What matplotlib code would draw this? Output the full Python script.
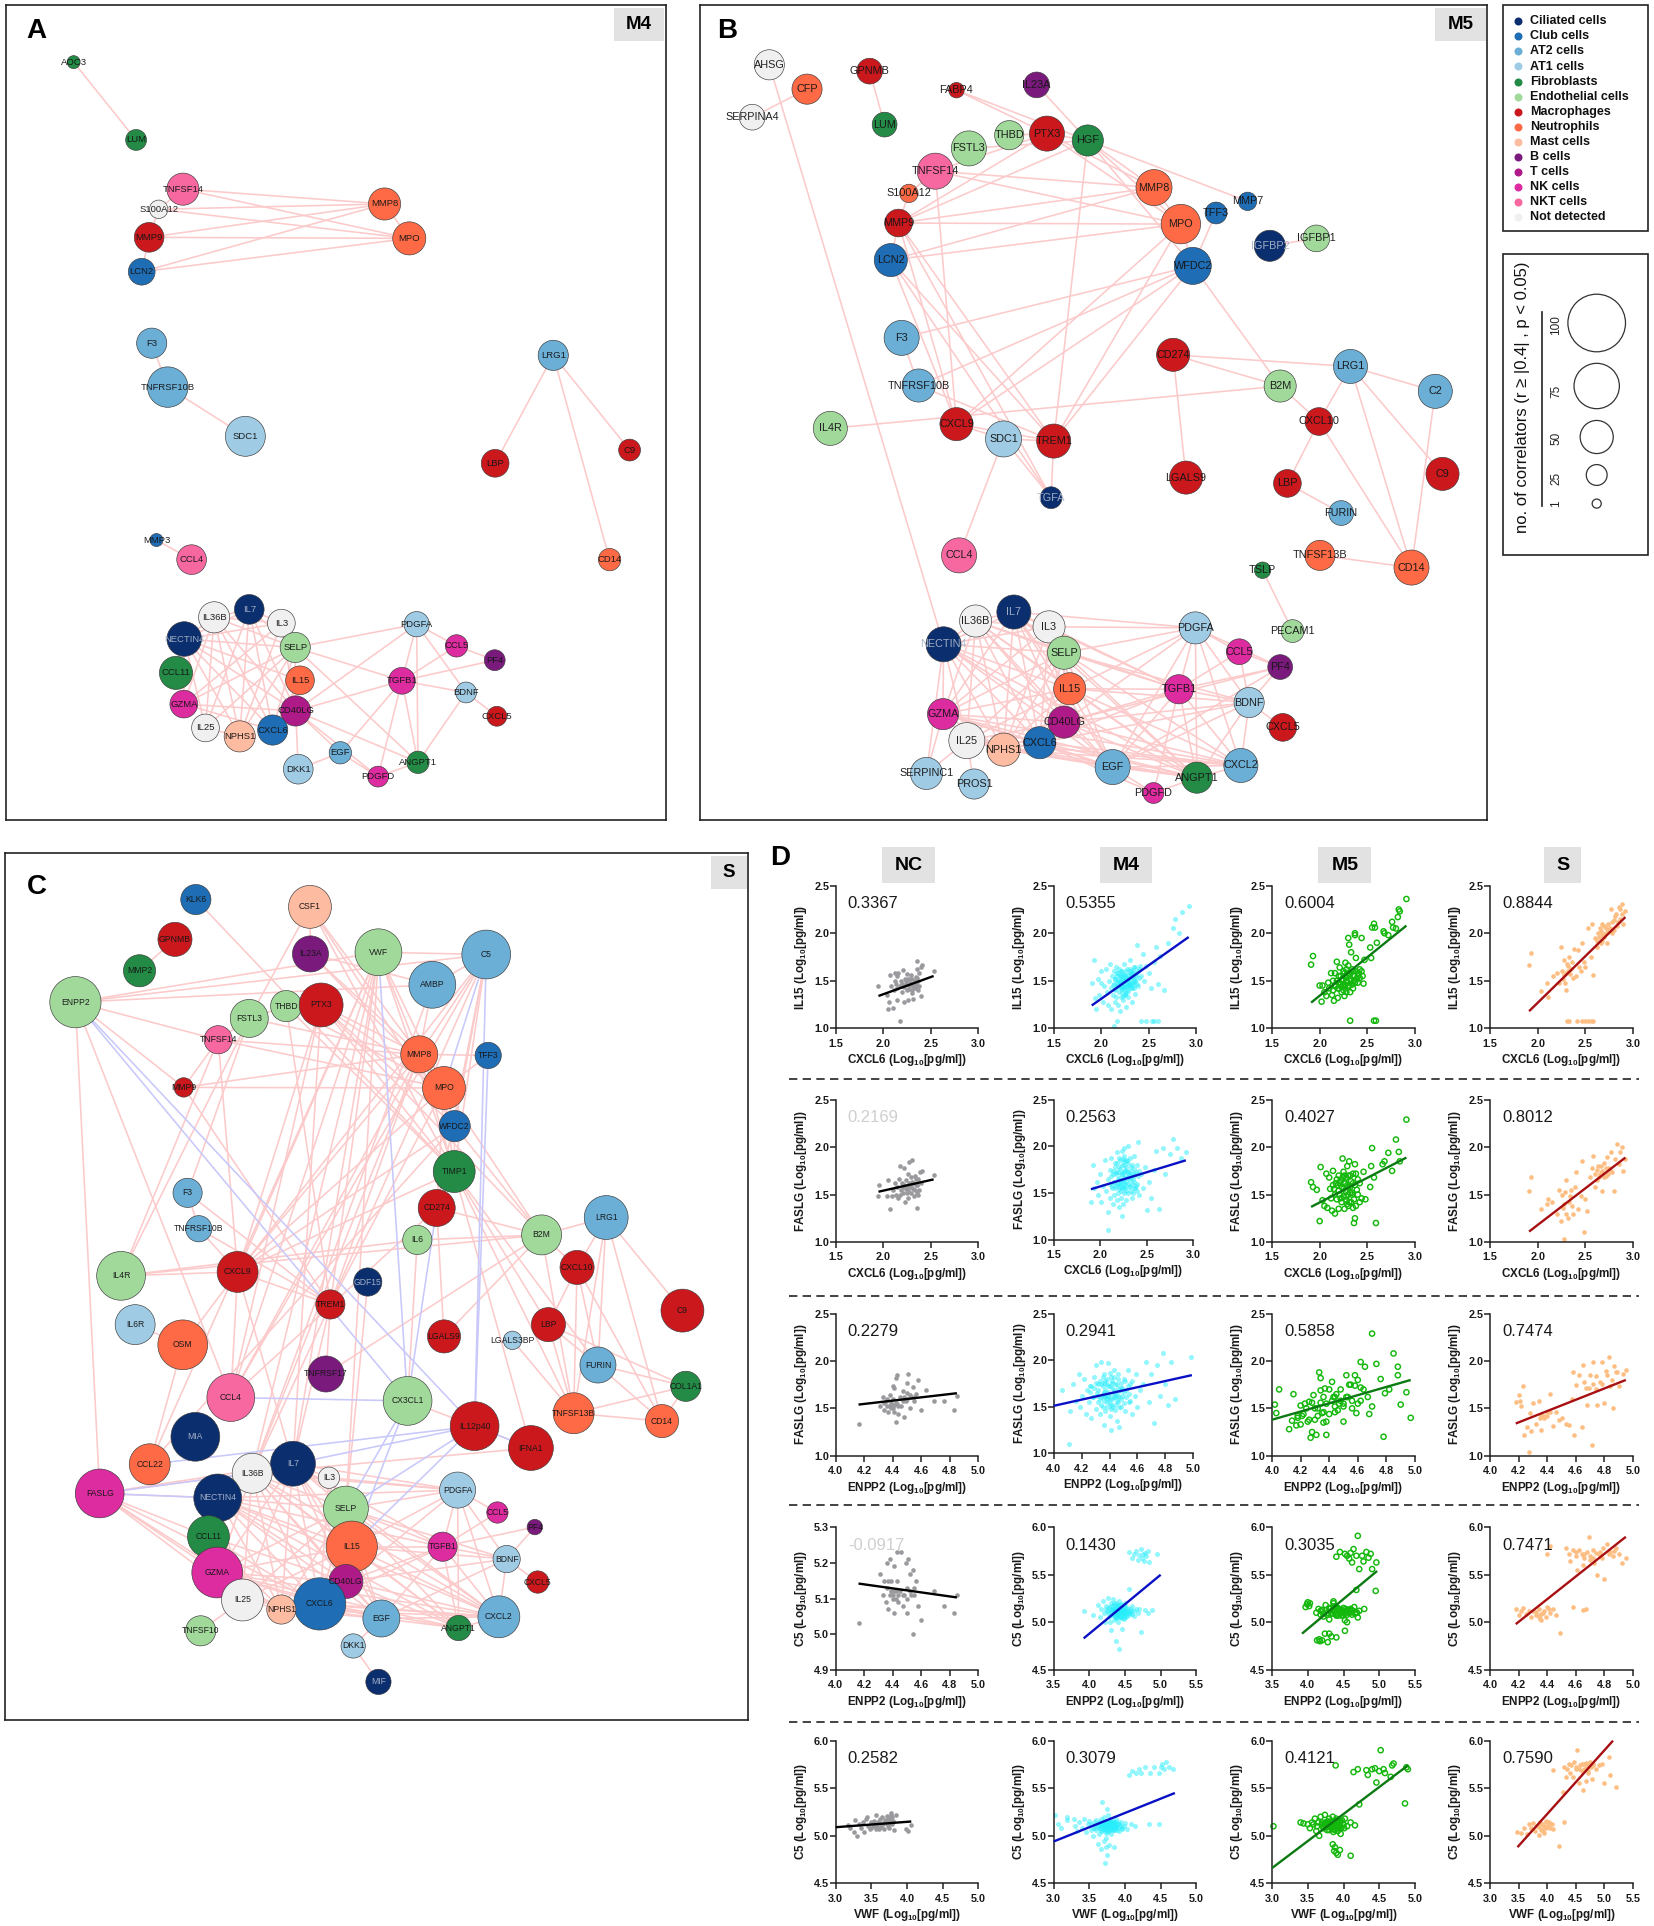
import matplotlib
matplotlib.use("Agg")
import matplotlib.pyplot as plt
from matplotlib.patches import Rectangle

W, H = 1654, 1926
plt.rcParams['font.family'] = ['Liberation Sans', 'DejaVu Sans']
plt.rcParams['mathtext.fontset'] = 'custom'
plt.rcParams['mathtext.bf'] = 'Liberation Sans:bold'
plt.rcParams['mathtext.rm'] = 'Liberation Sans'

# cell types / legend
cell_names = ["Ciliated cells", "Club cells", "AT2 cells", "AT1 cells", "Fibroblasts", "Endothelial cells",
              "Macrophages", "Neutrophils", "Mast cells", "B cells", "T cells", "NK cells", "NKT cells", "Not detected"]
cell_colors = ["#0b2e6f", "#1f6db5", "#6baed6", "#a0cbe4", "#238b45", "#a1d99b", "#cb181d", "#fe6a45", "#fdbba1",
               "#7a1a7d", "#ae1a87", "#dd2ba0", "#f768a1", "#f0f0f0"]
size_legend = [100, 75, 50, 25, 1]

# panel A, M4 network
a_names = ["AOC3", "LUM", "TNFSF14", "S100A12", "MMP9", "LCN2", "MMP8", "MPO", "F3", "TNFRSF10B", "SDC1", "LRG1", "LBP", "C9", "CD14", "MMP3", "CCL4", "IL36B", "IL7", "IL3", "NECTIN4", "SELP", "CCL11", "IL15", "GZMA", "CD40LG", "IL25", "NPHS1", "CXCL6", "DKK1", "EGF", "PDGFD", "ANGPT1", "PDGFA", "CCL5", "PF4", "TGFB1", "BDNF", "CXCL5"]
a_x = [171, 315, 423, 367, 345, 328, 888, 945, 351, 388, 567, 1277, 1143, 1453, 1407, 362, 443, 495, 576, 650, 426, 682, 407, 693, 425, 683, 475, 554, 630, 689, 786, 873, 965, 962, 1054, 1142, 928, 1076, 1147]
a_y = [118, 265, 358, 396, 449, 514, 386, 451, 649, 732, 825, 672, 876, 851, 1058, 1021, 1058, 1167, 1152, 1178, 1208, 1224, 1272, 1286, 1331, 1344, 1376, 1392, 1380, 1454, 1423, 1468, 1441, 1180, 1221, 1248, 1287, 1309, 1354]
a_n = [9, 25, 48, 20, 43, 37, 48, 50, 44, 65, 64, 44, 39, 27, 28, 9, 43, 46, 43, 39, 53, 44, 50, 41, 39, 44, 39, 46, 44, 43, 28, 25, 28, 34, 28, 25, 37, 25, 23]
a_cell = [4, 4, 12, 13, 6, 1, 7, 7, 2, 2, 3, 2, 6, 6, 7, 1, 12, 13, 0, 13, 0, 5, 4, 7, 11, 10, 13, 8, 1, 3, 2, 11, 4, 3, 11, 9, 11, 3, 6]
a_edges = ["AOC3 LUM", "TNFSF14 MMP8 MPO S100A12", "S100A12 MMP8 MPO MMP9", "MMP9 MMP8 MPO LCN2", "LCN2 MMP8 MPO", "MMP8 MPO",
           "F3 TNFRSF10B", "TNFRSF10B SDC1", "LRG1 LBP C9 CD14", "MMP3 CCL4",
           "NECTIN4 IL36B IL7 IL3 SELP CD40LG CXCL6 NPHS1 IL25 IL15 CCL11 GZMA", "IL36B IL7 IL3 SELP GZMA NPHS1 CXCL6 CD40LG IL25",
           "IL7 IL3 SELP CD40LG NPHS1 CXCL6 IL25", "IL3 SELP GZMA NPHS1 CD40LG", "SELP GZMA IL25 NPHS1 CD40LG CXCL6 PDGFA TGFB1 ANGPT1",
           "IL15 CD40LG CXCL6", "GZMA CD40LG CXCL6", "IL25 NPHS1", "CD40LG DKK1 EGF PDGFD ANGPT1 TGFB1 CXCL6 PDGFA",
           "TGFB1 PDGFA CCL5 PF4 BDNF ANGPT1 PDGFD EGF", "PDGFA CCL5 ANGPT1 BDNF", "CCL5 PF4", "BDNF CXCL5 ANGPT1", "DKK1 EGF", "EGF PDGFD", "PDGFD ANGPT1"]

# panel B, M5 network
b_names = ["AHSG", "CFP", "SERPINA4", "GPNMB", "LUM", "FABP4", "IL23A", "THBD", "FSTL3", "PTX3", "HGF", "TNFSF14", "S100A12", "MMP9", "LCN2", "MMP8", "MPO", "TFF3", "MMP7", "WFDC2", "IGFBP2", "IGFBP1", "F3", "TNFRSF10B", "CD274", "B2M", "LRG1", "C2", "IL4R", "CXCL9", "SDC1", "TREM1", "CXCL10", "LGALS9", "LBP", "C9", "TGFA", "FURIN", "CCL4", "TNFSF13B", "CD14", "TSLP", "PECAM1", "IL36B", "IL7", "IL3", "NECTIN4", "SELP", "PDGFA", "CCL5", "PF4", "IL15", "TGFB1", "BDNF", "GZMA", "CD40LG", "CXCL5", "IL25", "NPHS1", "CXCL6", "SERPINC1", "PROS1", "EGF", "CXCL2", "ANGPT1", "PDGFD"]
b_x = [154, 227, 121, 348, 377, 516, 671, 618, 540, 691, 770, 475, 424, 404, 389, 898, 950, 1018, 1079, 973, 1122, 1212, 410, 443, 935, 1142, 1278, 1442, 272, 516, 607, 704, 1217, 960, 1156, 1456, 699, 1260, 521, 1219, 1396, 1108, 1166, 553, 627, 695, 491, 724, 978, 1063, 1142, 735, 946, 1082, 490, 724, 1147, 536, 607, 677, 458, 550, 818, 1066, 981, 897]
b_y = [123, 169, 222, 135, 236, 171, 161, 256, 281, 253, 266, 324, 366, 422, 492, 355, 424, 403, 381, 503, 465, 451, 639, 729, 671, 730, 693, 740, 810, 802, 830, 834, 797, 903, 914, 896, 941, 970, 1050, 1050, 1073, 1078, 1193, 1174, 1157, 1185, 1218, 1234, 1187, 1232, 1261, 1302, 1303, 1328, 1350, 1365, 1375, 1400, 1417, 1404, 1462, 1482, 1450, 1447, 1470, 1499]
b_n = [44, 44, 35, 35, 33, 14, 35, 42, 54, 54, 46, 56, 20, 39, 50, 56, 63, 27, 20, 58, 46, 37, 54, 50, 50, 48, 52, 52, 52, 50, 56, 52, 39, 50, 39, 50, 27, 33, 54, 44, 54, 16, 29, 48, 52, 48, 54, 50, 48, 35, 33, 48, 42, 44, 46, 48, 39, 56, 50, 48, 48, 44, 54, 52, 46, 25]
b_cell = [13, 7, 13, 6, 4, 6, 9, 5, 5, 6, 4, 12, 7, 6, 1, 7, 7, 1, 1, 1, 0, 5, 2, 2, 6, 5, 2, 2, 5, 6, 3, 6, 6, 6, 6, 6, 0, 2, 12, 7, 7, 4, 5, 13, 0, 13, 0, 5, 3, 11, 9, 7, 11, 3, 11, 10, 6, 13, 8, 1, 3, 3, 2, 2, 4, 11]
b_edges = ["AHSG NECTIN4", "CFP SERPINA4", "GPNMB LUM", "FABP4 PTX3 HGF", "IL23A HGF", "THBD PTX3", "FSTL3 HGF",
           "HGF MMP8 MPO WFDC2 MMP7 TREM1 PTX3", "PTX3 MMP8 MPO TNFSF14 MMP9", "TNFSF14 MMP8 MPO CXCL9 S100A12", "S100A12 MMP9",
           "MMP9 MMP8 MPO HGF LCN2 CXCL9 TREM1 TGFA", "LCN2 MMP8 MPO TREM1 TGFA CXCL9", "MPO MMP8 WFDC2 CXCL9 TREM1",
           "WFDC2 TFF3 F3 TNFRSF10B CXCL9 TREM1 B2M", "F3 TNFRSF10B", "TNFRSF10B TREM1", "CXCL9 SDC1 TREM1", "IL4R B2M",
           "SDC1 CCL4 TREM1 TGFA", "TREM1 TGFA", "CD274 LRG1 B2M LGALS9", "B2M CXCL10", "LRG1 C2 CXCL10 CD14 C9", "C2 CD14",
           "CXCL10 LBP CD14", "LBP FURIN", "TNFSF13B CD14", "TSLP PECAM1", "IGFBP2 IGFBP1",
           "NECTIN4 IL36B IL7 IL3 SELP IL15 GZMA CD40LG IL25 NPHS1 CXCL6 EGF ANGPT1 SERPINC1",
           "IL36B IL7 IL3 SELP IL15 GZMA CD40LG IL25 NPHS1 CXCL6 EGF ANGPT1 TGFB1",
           "IL7 IL3 SELP IL15 GZMA CD40LG NPHS1 CXCL6 EGF PDGFA TGFB1 ANGPT1",
           "IL3 SELP IL15 GZMA CD40LG NPHS1 CXCL6 PDGFA TGFB1",
           "SELP IL15 GZMA CD40LG IL25 NPHS1 CXCL6 EGF PDGFA TGFB1 BDNF ANGPT1 CXCL2",
           "IL15 GZMA CD40LG IL25 NPHS1 CXCL6 EGF TGFB1 PDGFA BDNF ANGPT1 CXCL2",
           "GZMA IL25 NPHS1 CXCL6 CD40LG EGF ANGPT1 SERPINC1 CXCL2",
           "CD40LG IL25 NPHS1 CXCL6 EGF TGFB1 PDGFA BDNF ANGPT1 CXCL2 PF4",
           "IL25 NPHS1 CXCL6 EGF ANGPT1 SERPINC1 PROS1 CXCL2", "NPHS1 CXCL6 EGF ANGPT1 CXCL2",
           "CXCL6 EGF ANGPT1 TGFB1 BDNF CXCL2 PDGFD", "EGF TGFB1 BDNF PDGFA ANGPT1 CXCL2 PDGFD PF4",
           "TGFB1 PDGFA CCL5 PF4 BDNF CXCL2 ANGPT1 PDGFD", "PDGFA CCL5 PF4 BDNF CXCL2 ANGPT1", "CCL5 PF4 BDNF", "PF4 BDNF",
           "BDNF CXCL5 CXCL2 ANGPT1", "CXCL2 ANGPT1", "PDGFD ANGPT1"]

# panel C, S network
c_names = ["KLK6", "CSF1", "GPNMB", "IL23A", "VWF", "C5", "MMP2", "AMBP", "ENPP2", "FSTL3", "THBD", "PTX3", "TNFSF14", "MMP8", "TFF3", "MMP9", "MPO", "WFDC2", "TIMP1", "F3", "CD274", "LRG1", "TNFRSF10B", "IL6", "B2M", "CXCL10", "IL4R", "CXCL9", "GDF15", "TREM1", "C9", "IL6R", "OSM", "LBP", "LGALS9", "LGALS3BP", "FURIN", "TNFRSF17", "COL1A1", "CCL4", "CX3CL1", "TNFSF13B", "CD14", "IL12p40", "MIA", "IFNA1", "CCL22", "IL7", "IL36B", "IL3", "PDGFA", "FASLG", "NECTIN4", "SELP", "CCL5", "PF4", "CCL11", "TGFB1", "IL15", "BDNF", "GZMA", "CXCL5", "CD40LG", "IL25", "CXCL6", "NPHS1", "EGF", "CXCL2", "ANGPT1", "TNFSF10", "DKK1", "MIF"]
c_x = [405, 640, 362, 641, 781, 1003, 289, 892, 157, 515, 591, 663, 451, 865, 1007, 380, 916, 938, 937, 388, 901, 1250, 411, 861, 1117, 1190, 251, 491, 759, 682, 1407, 280, 378, 1131, 916, 1057, 1233, 673, 1414, 477, 841, 1183, 1365, 979, 404, 1095, 310, 605, 521, 679, 944, 207, 450, 714, 1026, 1103, 431, 913, 726, 1045, 449, 1109, 714, 501, 660, 581, 787, 1029, 946, 415, 729, 781]
c_y = [89, 102, 160, 186, 183, 187, 216, 241, 272, 301, 279, 277, 339, 365, 367, 424, 425, 493, 574, 612, 639, 656, 676, 696, 687, 745, 760, 753, 771, 811, 822, 847, 883, 847, 868, 875, 919, 935, 957, 977, 983, 1005, 1019, 1028, 1047, 1067, 1096, 1095, 1112, 1120, 1142, 1148, 1156, 1175, 1182, 1208, 1225, 1243, 1243, 1265, 1289, 1306, 1305, 1338, 1345, 1355, 1371, 1368, 1388, 1393, 1420, 1484]
c_n = [44, 70, 52, 56, 78, 82, 48, 78, 87, 60, 46, 72, 40, 58, 36, 22, 70, 46, 68, 42, 58, 72, 36, 42, 64, 52, 82, 66, 40, 42, 70, 64, 84, 52, 50, 20, 56, 56, 44, 80, 82, 66, 50, 82, 82, 74, 66, 74, 64, 26, 56, 82, 80, 74, 26, 14, 68, 42, 87, 38, 86, 28, 52, 68, 89, 42, 58, 68, 34, 44, 32, 34]
c_cell = [1, 8, 6, 9, 5, 2, 4, 2, 5, 5, 5, 6, 12, 7, 1, 6, 7, 1, 4, 2, 6, 2, 2, 5, 5, 6, 5, 6, 0, 6, 6, 3, 7, 6, 6, 3, 2, 9, 4, 12, 5, 7, 7, 6, 0, 6, 7, 0, 13, 13, 3, 11, 0, 5, 11, 9, 4, 11, 7, 3, 11, 6, 10, 13, 1, 8, 2, 2, 4, 5, 3, 0]
c_edges = ["ENPP2 VWF AMBP C5 MMP9 FASLG CCL4 TNFSF14", "KLK6 TIMP1", "GPNMB MMP2", "CSF1 IL23A FSTL3 WFDC2 TIMP1 MPO", "IL23A MPO MMP8 AMBP",
           "VWF C5 MPO TIMP1 CXCL9 CCL4 IL36B TREM1 SELP IL7 CCL22 MMP8", "C5 AMBP MMP8 CD274 CXCL9 TIMP1 WFDC2 CCL4 TREM1",
           "AMBP MMP8 IL36B", "FSTL3 THBD TNFSF14 IL4R F3 MMP8", "THBD PTX3 MPO TREM1 TIMP1", "PTX3 MMP8 MPO WFDC2 TIMP1 B2M CXCL9 CCL4 IL7",
           "TNFSF14 MMP8 MMP9 CXCL9 MPO IL4R", "MMP9 MPO MMP8 TREM1", "MMP8 MPO TFF3 CXCL9 TIMP1 IL36B CCL4 TREM1",
           "MPO WFDC2 CXCL9 TIMP1 CD274 TREM1 B2M", "TFF3 MPO", "WFDC2 TIMP1 B2M CXCL9 CCL22", "TIMP1 CD274 CXCL9 LBP TNFSF13B IFNA1 FURIN",
           "CD274 B2M LGALS9 CCL4", "F3 TNFRSF10B TREM1", "TNFRSF10B CXCL9 TREM1", "IL6 B2M IL4R CX3CL1", "IL4R B2M CXCL9",
           "B2M LRG1 CXCL10 LGALS9 TNFRSF17 TNFSF13B", "LRG1 CXCL10 C9 FURIN CD14 TNFSF13B", "CXCL10 LBP FURIN TNFSF13B CD14", "LBP FURIN COL1A1 TNFSF13B",
           "FURIN COL1A1 CD14", "COL1A1 TNFSF13B CD14", "TNFSF13B CD14 LGALS3BP", "IL6R OSM", "OSM CXCL9", "CXCL9 TREM1 CCL4 IL7", "TREM1 TNFRSF17 IL7 IL36B",
           "CCL22 OSM", "GDF15 SELP", "IL12p40 CX3CL1 IFNA1", "IFNA1 IL36B",
           "FASLG IL36B NECTIN4 CCL11 GZMA IL25 CXCL6 NPHS1 IL7",
           "NECTIN4 IL36B IL7 SELP IL15 GZMA CD40LG IL25 NPHS1 CXCL6 EGF CXCL2 ANGPT1 TGFB1 PDGFA",
           "IL36B IL7 IL3 SELP IL15 GZMA CD40LG IL25 NPHS1 CXCL6 EGF CXCL2 ANGPT1 PDGFA",
           "IL7 IL3 SELP IL15 GZMA CD40LG IL25 NPHS1 CXCL6 EGF CXCL2 TGFB1 PDGFA", "IL3 SELP CXCL6 PDGFA CD40LG",
           "SELP IL15 GZMA CD40LG IL25 NPHS1 CXCL6 EGF CXCL2 ANGPT1 TGFB1 PDGFA BDNF",
           "IL15 GZMA CD40LG IL25 CXCL6 EGF CXCL2 ANGPT1 TGFB1 PDGFA BDNF", "GZMA CCL11 CD40LG IL25 NPHS1 CXCL6 EGF CXCL2 ANGPT1",
           "CCL11 IL25 NPHS1 CXCL6 CD40LG", "IL25 NPHS1 CXCL6 EGF CXCL2 TNFSF10", "NPHS1 CXCL6 EGF CXCL2", "CXCL6 CD40LG EGF CXCL2 ANGPT1 TGFB1",
           "CD40LG EGF CXCL2 ANGPT1 TGFB1 PDGFA BDNF", "EGF CXCL2 ANGPT1 TGFB1 BDNF", "TGFB1 PDGFA BDNF CXCL2 ANGPT1 CCL5 PF4", "PDGFA BDNF CXCL2 ANGPT1 CCL5",
           "BDNF CXCL2 CXCL5 PF4", "DKK1 MIF EGF", "ANGPT1 CXCL2"]
c_neg_edges = ["ENPP2 CX3CL1 IL12p40", "C5 MPO", "TFF3 IL12p40", "C5 IL12p40", "VWF CX3CL1", "CD274 CX3CL1", "CCL4 CX3CL1", "CX3CL1 SELP IL15",
               "IL12p40 IL15 SELP IL7 IFNA1 CCL22", "FASLG NECTIN4 IL36B"]

# panel D scatter values, row 1 (CXCL6 vs IL15)
r1_nc_x = [1.95, 2.04, 2.05, 2.06, 2.07, 2.08, 2.1, 2.11, 2.12, 2.12, 2.13, 2.14, 2.14, 2.15, 2.16, 2.18, 2.19, 2.2, 2.2, 2.21, 2.22, 2.23, 2.24, 2.25, 2.25, 2.26, 2.27, 2.28, 2.29, 2.3, 2.3, 2.31, 2.32, 2.33, 2.34, 2.35, 2.36, 2.37, 2.37, 2.38, 2.4, 2.4, 2.41, 2.53, 2.2, 2.24, 2.27, 2.29, 2.31, 2.33, 2.35, 2.18, 2.26, 2.3, 2.34, 2.36, 2.28, 2.22, 2.38]
r1_nc_y = [1.44, 1.35, 1.2, 1.28, 1.56, 1.45, 1.21, 1.4, 1.5, 1.58, 1.47, 1.3, 1.55, 1.42, 1.58, 1.08, 1.5, 1.38, 1.44, 1.61, 1.28, 1.52, 1.47, 1.4, 1.57, 1.3, 1.44, 1.48, 1.56, 1.4, 1.52, 1.31, 1.46, 1.42, 1.54, 1.62, 1.71, 1.5, 1.4, 1.58, 1.65, 1.34, 1.67, 1.6, 1.47, 1.5, 1.41, 1.47, 1.44, 1.5, 1.45, 1.45, 1.52, 1.37, 1.48, 1.53, 1.52, 1.43, 1.44]
r1_m4_x = [1.9, 1.92, 1.93, 1.95, 1.97, 1.98, 2.0, 2.0, 2.02, 2.03, 2.05, 2.06, 2.07, 2.08, 2.09, 2.1, 2.1, 2.11, 2.12, 2.13, 2.13, 2.14, 2.15, 2.15, 2.16, 2.16, 2.17, 2.17, 2.18, 2.18, 2.19, 2.19, 2.2, 2.2, 2.2, 2.21, 2.21, 2.22, 2.22, 2.23, 2.23, 2.24, 2.24, 2.25, 2.25, 2.26, 2.26, 2.27, 2.27, 2.28, 2.28, 2.29, 2.3, 2.3, 2.31, 2.32, 2.32, 2.33, 2.34, 2.35, 2.36, 2.37, 2.38, 2.39, 2.4, 2.42, 2.44, 2.45, 2.47, 2.5, 2.52, 2.55, 2.58, 2.6, 2.62, 2.66, 2.7, 2.75, 2.78, 2.82, 2.85, 2.92, 2.13, 2.17, 2.42, 2.47, 2.53, 2.56, 2.6]
r1_m4_y = [1.48, 1.72, 1.32, 1.2, 1.52, 1.35, 1.48, 1.6, 1.28, 1.45, 1.62, 1.38, 1.25, 1.5, 1.68, 1.2, 1.42, 1.55, 1.35, 1.6, 1.47, 1.28, 1.52, 1.4, 1.65, 1.33, 1.45, 1.58, 1.25, 1.5, 1.38, 1.62, 1.18, 1.44, 1.55, 1.33, 1.48, 1.6, 1.41, 1.3, 1.52, 1.68, 1.43, 1.36, 1.56, 1.22, 1.47, 1.62, 1.4, 1.52, 1.33, 1.46, 1.58, 1.72, 1.42, 1.54, 1.28, 1.48, 1.64, 1.5, 1.36, 1.57, 1.88, 1.45, 1.62, 1.55, 1.78, 1.5, 1.66, 1.58, 1.42, 1.7, 1.85, 1.47, 1.76, 1.4, 1.9, 2.05, 2.15, 2.0, 2.22, 2.29, 1.02, 1.08, 1.08, 1.08, 1.08, 1.08, 1.08]
r1_m4_core_x = [2.12, 2.14, 2.15, 2.16, 2.17, 2.18, 2.18, 2.19, 2.2, 2.2, 2.21, 2.21, 2.22, 2.22, 2.23, 2.23, 2.24, 2.24, 2.25, 2.25, 2.26, 2.26, 2.27, 2.27, 2.28, 2.28, 2.29, 2.29, 2.3, 2.3, 2.31, 2.31, 2.32, 2.32, 2.33, 2.33, 2.34, 2.34, 2.35, 2.35, 2.36, 2.37, 2.38, 2.39, 2.4, 2.41, 2.2, 2.22, 2.24, 2.26, 2.28, 2.3, 2.32, 2.34, 2.25, 2.27, 2.21, 2.23, 2.29, 2.31]
r1_m4_core_y = [1.46, 1.52, 1.41, 1.55, 1.48, 1.44, 1.58, 1.5, 1.42, 1.54, 1.47, 1.6, 1.38, 1.52, 1.45, 1.57, 1.41, 1.5, 1.35, 1.46, 1.54, 1.6, 1.43, 1.5, 1.39, 1.56, 1.47, 1.53, 1.44, 1.62, 1.5, 1.57, 1.42, 1.48, 1.55, 1.61, 1.46, 1.52, 1.58, 1.64, 1.5, 1.55, 1.47, 1.6, 1.53, 1.66, 1.49, 1.43, 1.55, 1.37, 1.52, 1.46, 1.58, 1.42, 1.51, 1.44, 1.56, 1.34, 1.48, 1.6]
r1_m5_x = [1.91, 1.93, 2.0, 2.02, 2.03, 2.05, 2.07, 2.09, 2.1, 2.12, 2.13, 2.14, 2.15, 2.16, 2.17, 2.18, 2.19, 2.2, 2.2, 2.21, 2.22, 2.23, 2.24, 2.25, 2.25, 2.26, 2.27, 2.28, 2.28, 2.29, 2.3, 2.3, 2.31, 2.32, 2.32, 2.33, 2.34, 2.35, 2.36, 2.37, 2.37, 2.38, 2.4, 2.42, 2.44, 2.45, 2.47, 2.53, 2.54, 2.55, 2.57, 2.58, 2.6, 2.67, 2.68, 2.72, 2.76, 2.77, 2.8, 2.82, 2.83, 2.84, 2.91, 2.32, 2.57, 2.59]
r1_m5_y = [1.67, 1.76, 1.45, 1.28, 1.45, 1.38, 1.34, 1.48, 1.42, 1.58, 1.35, 1.5, 1.29, 1.58, 1.44, 1.7, 1.32, 1.42, 1.55, 1.64, 1.46, 1.38, 1.52, 1.6, 1.44, 1.34, 1.69, 1.5, 1.38, 1.58, 1.44, 1.95, 1.88, 1.52, 1.38, 1.8, 1.46, 1.6, 1.5, 1.98, 2.0, 1.74, 1.55, 1.62, 1.95, 1.55, 1.72, 1.85, 1.74, 2.06, 2.1, 2.06, 1.9, 2.02, 2.0, 1.98, 2.12, 2.06, 2.05, 2.17, 2.25, 2.23, 2.36, 1.08, 1.08, 1.08]
r1_m5_core_x = [2.14, 2.16, 2.18, 2.19, 2.2, 2.22, 2.23, 2.24, 2.25, 2.26, 2.27, 2.27, 2.28, 2.29, 2.3, 2.3, 2.31, 2.32, 2.33, 2.34, 2.35, 2.36, 2.37, 2.38, 2.39, 2.4, 2.41, 2.42, 2.44, 2.46]
r1_m5_core_y = [1.4, 1.45, 1.5, 1.42, 1.48, 1.55, 1.44, 1.5, 1.4, 1.58, 1.46, 1.54, 1.62, 1.48, 1.55, 1.66, 1.45, 1.57, 1.5, 1.62, 1.42, 1.56, 1.48, 1.6, 1.52, 1.48, 1.58, 1.53, 1.6, 1.47]
r1_s_x = [1.91, 1.93, 2.03, 2.1, 2.11, 2.16, 2.2, 2.22, 2.24, 2.25, 2.27, 2.28, 2.29, 2.3, 2.31, 2.32, 2.33, 2.35, 2.37, 2.38, 2.4, 2.42, 2.43, 2.45, 2.46, 2.49, 2.5, 2.53, 2.56, 2.57, 2.58, 2.6, 2.62, 2.63, 2.65, 2.67, 2.68, 2.7, 2.72, 2.73, 2.75, 2.77, 2.78, 2.8, 2.81, 2.83, 2.85, 2.86, 2.88, 2.9, 2.92, 2.31, 2.33, 2.41, 2.47, 2.5, 2.53, 2.56, 2.58]
r1_s_y = [1.67, 1.79, 1.39, 1.48, 1.33, 1.55, 1.58, 1.48, 1.85, 1.6, 1.52, 1.72, 1.48, 1.4, 1.68, 1.6, 1.75, 1.62, 1.53, 1.83, 1.55, 1.82, 1.65, 1.6, 1.9, 1.7, 1.64, 2.05, 1.75, 2.1, 1.56, 1.95, 1.85, 2.0, 2.05, 1.92, 2.1, 1.99, 2.06, 1.9, 2.03, 2.25, 2.12, 2.03, 2.18, 2.08, 2.28, 2.15, 2.31, 2.1, 2.23, 1.08, 1.08, 1.08, 1.08, 1.08, 1.08, 1.08, 1.08]
r1_s_core_x = [2.3, 2.32, 2.34, 2.36, 2.28, 2.62, 2.64, 2.66, 2.68, 2.7, 2.72, 2.74, 2.76, 2.78, 2.8, 2.82, 2.84, 2.86, 2.88, 2.74, 2.7, 2.66]
r1_s_core_y = [1.58, 1.66, 1.57, 1.7, 1.56, 1.92, 1.96, 2.02, 1.98, 2.08, 2.0, 2.1, 2.05, 2.0, 2.14, 2.2, 2.12, 2.25, 2.2, 2.02, 1.96, 1.9]

# row 2 (CXCL6 vs FASLG)
r2_nc_x = [1.95, 1.96, 2.04, 2.05, 2.07, 2.09, 2.1, 2.12, 2.13, 2.15, 2.16, 2.17, 2.18, 2.19, 2.2, 2.21, 2.22, 2.23, 2.24, 2.25, 2.26, 2.26, 2.27, 2.28, 2.29, 2.29, 2.3, 2.31, 2.32, 2.33, 2.34, 2.35, 2.36, 2.37, 2.38, 2.39, 2.4, 2.41, 2.53, 2.21, 2.24, 2.27, 2.29, 2.31, 2.33, 2.35, 2.37, 2.25, 2.3, 2.18, 2.34, 2.22, 2.26, 2.36]
r2_nc_y = [1.48, 1.6, 1.48, 1.65, 1.35, 1.48, 1.55, 1.62, 1.5, 1.58, 1.46, 1.66, 1.8, 1.55, 1.62, 1.52, 1.78, 1.42, 1.65, 1.58, 1.46, 1.72, 1.84, 1.6, 1.52, 1.68, 1.86, 1.56, 1.48, 1.7, 1.6, 1.52, 1.36, 1.66, 1.55, 1.74, 1.62, 1.75, 1.71, 1.58, 1.56, 1.62, 1.58, 1.62, 1.55, 1.6, 1.5, 1.52, 1.63, 1.5, 1.66, 1.6, 1.55, 1.6]
r2_m4_x = [1.9, 1.92, 1.93, 1.96, 1.98, 2.0, 2.01, 2.03, 2.05, 2.06, 2.08, 2.08, 2.1, 2.1, 2.11, 2.12, 2.13, 2.14, 2.14, 2.15, 2.15, 2.16, 2.17, 2.17, 2.18, 2.18, 2.19, 2.2, 2.2, 2.2, 2.21, 2.21, 2.22, 2.22, 2.23, 2.23, 2.24, 2.24, 2.25, 2.25, 2.26, 2.26, 2.27, 2.27, 2.28, 2.28, 2.29, 2.3, 2.3, 2.31, 2.32, 2.33, 2.34, 2.35, 2.36, 2.37, 2.38, 2.4, 2.41, 2.42, 2.44, 2.46, 2.48, 2.5, 2.52, 2.55, 2.58, 2.6, 2.63, 2.67, 2.7, 2.75, 2.78, 2.82, 2.87, 2.92, 2.08, 2.23]
r2_m4_y = [1.4, 1.8, 1.55, 1.62, 1.48, 1.7, 1.4, 1.58, 1.85, 1.52, 1.65, 1.3, 1.75, 1.45, 1.6, 1.88, 1.55, 1.38, 1.7, 1.62, 1.48, 1.82, 1.58, 1.72, 1.42, 1.94, 1.65, 1.54, 1.78, 1.35, 1.6, 1.85, 1.45, 1.7, 1.95, 1.55, 1.62, 1.38, 1.8, 1.5, 1.66, 1.98, 1.55, 1.75, 1.42, 1.62, 1.85, 1.5, 2.0, 1.68, 1.58, 1.78, 1.45, 1.65, 1.9, 1.55, 1.72, 1.6, 2.05, 1.48, 1.7, 1.55, 1.78, 1.32, 1.62, 1.45, 1.75, 1.95, 1.33, 1.98, 1.7, 1.92, 2.08, 1.98, 1.88, 1.94, 1.1, 1.25]
r2_m4_core_x = [2.12, 2.13, 2.14, 2.15, 2.16, 2.17, 2.18, 2.18, 2.19, 2.19, 2.2, 2.2, 2.21, 2.21, 2.22, 2.22, 2.23, 2.23, 2.24, 2.24, 2.25, 2.25, 2.26, 2.26, 2.27, 2.27, 2.28, 2.28, 2.29, 2.29, 2.3, 2.3, 2.31, 2.31, 2.32, 2.32, 2.33, 2.33, 2.34, 2.34, 2.35, 2.35, 2.36, 2.36, 2.37, 2.38, 2.39, 2.4, 2.41, 2.42, 2.16, 2.2, 2.24, 2.28, 2.32, 2.36, 2.26, 2.22, 2.3, 2.34]
r2_m4_core_y = [1.68, 1.58, 1.74, 1.62, 1.55, 1.7, 1.82, 1.6, 1.5, 1.72, 1.66, 1.88, 1.56, 1.76, 1.64, 1.52, 1.8, 1.7, 1.58, 1.86, 1.65, 1.73, 1.56, 1.84, 1.68, 1.6, 1.78, 1.52, 1.66, 1.74, 1.6, 1.82, 1.56, 1.7, 1.64, 1.88, 1.52, 1.74, 1.6, 1.8, 1.68, 1.5, 1.76, 1.62, 1.7, 1.58, 1.8, 1.52, 1.68, 1.74, 1.78, 1.6, 1.72, 1.84, 1.66, 1.55, 1.9, 1.62, 1.72, 1.7]
r2_m5_x = [1.91, 1.93, 1.97, 2.0, 2.01, 2.03, 2.05, 2.07, 2.08, 2.1, 2.11, 2.12, 2.13, 2.14, 2.15, 2.16, 2.17, 2.18, 2.19, 2.2, 2.2, 2.21, 2.22, 2.23, 2.24, 2.25, 2.25, 2.26, 2.27, 2.28, 2.28, 2.29, 2.3, 2.3, 2.31, 2.32, 2.33, 2.34, 2.35, 2.36, 2.37, 2.37, 2.38, 2.4, 2.42, 2.44, 2.46, 2.48, 2.53, 2.54, 2.55, 2.57, 2.59, 2.66, 2.68, 2.72, 2.76, 2.8, 2.83, 2.84, 2.91]
r2_m5_y = [1.63, 1.58, 1.55, 1.22, 1.79, 1.44, 1.38, 1.72, 1.36, 1.68, 1.56, 1.46, 1.33, 1.75, 1.56, 1.3, 1.62, 1.45, 1.6, 1.35, 1.7, 1.5, 1.65, 1.42, 1.88, 1.56, 1.74, 1.35, 1.62, 1.48, 1.68, 1.8, 1.38, 1.58, 1.85, 1.7, 1.42, 1.52, 1.36, 1.2, 1.82, 1.25, 1.72, 1.5, 1.62, 1.46, 1.74, 1.45, 1.58, 1.8, 1.99, 1.68, 1.2, 1.82, 1.85, 1.94, 1.75, 2.08, 1.95, 1.85, 2.29]
r2_m5_core_x = [2.14, 2.16, 2.18, 2.2, 2.21, 2.22, 2.23, 2.24, 2.25, 2.26, 2.27, 2.28, 2.29, 2.3, 2.3, 2.31, 2.32, 2.33, 2.34, 2.35, 2.36, 2.37, 2.38, 2.39, 2.4, 2.42, 2.26, 2.29, 2.32, 2.35]
r2_m5_core_y = [1.6, 1.5, 1.66, 1.54, 1.62, 1.46, 1.58, 1.68, 1.48, 1.62, 1.54, 1.44, 1.6, 1.5, 1.7, 1.42, 1.58, 1.64, 1.5, 1.72, 1.45, 1.6, 1.38, 1.55, 1.66, 1.42, 1.7, 1.4, 1.52, 1.62]
r2_s_x = [1.91, 1.93, 2.03, 2.1, 2.11, 2.15, 2.2, 2.22, 2.24, 2.25, 2.27, 2.28, 2.29, 2.3, 2.32, 2.33, 2.35, 2.37, 2.39, 2.4, 2.42, 2.45, 2.46, 2.49, 2.5, 2.52, 2.55, 2.57, 2.58, 2.6, 2.62, 2.63, 2.65, 2.67, 2.68, 2.7, 2.72, 2.73, 2.75, 2.77, 2.78, 2.8, 2.81, 2.83, 2.85, 2.86, 2.88, 2.9, 2.92, 2.28, 2.3, 2.34, 2.36, 2.6, 2.62, 2.64, 2.66, 2.68, 2.7, 2.72, 2.74, 2.76]
r2_s_y = [1.54, 1.69, 1.35, 1.4, 1.45, 1.42, 1.3, 1.55, 1.22, 1.5, 1.36, 1.03, 1.53, 1.65, 1.25, 1.42, 1.55, 1.3, 1.58, 1.74, 1.35, 1.49, 1.85, 1.11, 1.45, 1.33, 1.68, 1.78, 1.91, 1.58, 1.65, 1.8, 1.72, 1.75, 1.54, 1.83, 1.7, 1.9, 1.78, 1.95, 1.74, 1.54, 1.88, 2.03, 1.82, 1.95, 2.0, 1.75, 1.87, 1.4, 1.3, 1.48, 1.38, 1.72, 1.76, 1.68, 1.8, 1.74, 1.69, 1.78, 1.72, 1.76]

# row 3 (ENPP2 vs FASLG)
r3_nc_x = [4.16, 4.31, 4.33, 4.34, 4.35, 4.36, 4.37, 4.38, 4.39, 4.4, 4.4, 4.41, 4.41, 4.42, 4.42, 4.43, 4.43, 4.44, 4.45, 4.46, 4.47, 4.48, 4.49, 4.5, 4.5, 4.51, 4.52, 4.53, 4.54, 4.55, 4.56, 4.58, 4.6, 4.63, 4.69, 4.76, 4.83, 4.85, 4.38, 4.4, 4.42, 4.44, 4.36, 4.47, 4.5, 4.52, 4.55, 4.34, 4.41, 4.48, 4.39]
r3_nc_y = [1.34, 1.53, 1.62, 1.48, 1.58, 1.6, 1.46, 1.64, 1.56, 1.74, 1.5, 1.46, 1.72, 1.36, 1.82, 1.55, 1.85, 1.44, 1.62, 1.52, 1.68, 1.41, 1.58, 1.66, 1.77, 1.86, 1.5, 1.62, 1.73, 1.58, 1.65, 1.8, 1.48, 1.69, 1.58, 1.58, 1.48, 1.63, 1.53, 1.6, 1.56, 1.52, 1.52, 1.58, 1.6, 1.64, 1.62, 1.56, 1.54, 1.62, 1.5]
r3_m4_x = [4.06, 4.11, 4.12, 4.14, 4.16, 4.18, 4.19, 4.2, 4.22, 4.23, 4.24, 4.25, 4.26, 4.27, 4.28, 4.29, 4.3, 4.3, 4.31, 4.32, 4.33, 4.33, 4.34, 4.34, 4.35, 4.35, 4.36, 4.36, 4.37, 4.37, 4.38, 4.38, 4.39, 4.39, 4.4, 4.4, 4.41, 4.41, 4.42, 4.42, 4.43, 4.43, 4.44, 4.44, 4.45, 4.45, 4.46, 4.46, 4.47, 4.48, 4.48, 4.49, 4.5, 4.51, 4.52, 4.53, 4.54, 4.55, 4.56, 4.58, 4.59, 4.6, 4.62, 4.64, 4.66, 4.68, 4.7, 4.72, 4.74, 4.76, 4.78, 4.8, 4.82, 4.84, 4.87, 4.98]
r3_m4_y = [1.68, 1.1, 1.45, 1.75, 1.56, 1.85, 1.5, 1.62, 1.8, 1.42, 1.68, 1.55, 1.72, 1.38, 1.6, 1.82, 1.48, 1.95, 1.65, 1.55, 1.78, 1.42, 1.6, 1.98, 1.5, 1.72, 1.3, 1.85, 1.62, 1.45, 1.75, 1.55, 1.97, 1.66, 1.4, 1.58, 1.82, 1.25, 1.7, 1.5, 1.6, 1.9, 1.46, 1.75, 1.62, 1.35, 1.85, 1.55, 1.28, 1.7, 1.5, 1.62, 1.8, 1.45, 1.68, 1.9, 1.55, 1.75, 1.42, 1.62, 1.85, 1.5, 1.68, 1.75, 1.98, 1.55, 1.85, 1.33, 1.95, 1.62, 2.08, 1.75, 1.52, 1.98, 1.58, 2.04]
r3_m4_core_x = [4.26, 4.27, 4.28, 4.29, 4.3, 4.31, 4.32, 4.33, 4.34, 4.34, 4.35, 4.35, 4.36, 4.36, 4.37, 4.37, 4.38, 4.38, 4.39, 4.39, 4.4, 4.4, 4.41, 4.41, 4.42, 4.42, 4.43, 4.43, 4.44, 4.44, 4.45, 4.45, 4.46, 4.46, 4.47, 4.47, 4.48, 4.48, 4.49, 4.5, 4.5, 4.51, 4.52, 4.53, 4.54, 4.55, 4.56, 4.32, 4.36, 4.4, 4.44, 4.48, 4.38, 4.42, 4.35, 4.46, 4.41, 4.37, 4.43, 4.39]
r3_m4_core_y = [1.66, 1.72, 1.6, 1.7, 1.76, 1.62, 1.68, 1.58, 1.74, 1.52, 1.82, 1.64, 1.56, 1.76, 1.68, 1.6, 1.5, 1.8, 1.62, 1.72, 1.54, 1.86, 1.64, 1.48, 1.76, 1.58, 1.68, 1.82, 1.52, 1.64, 1.74, 1.56, 1.66, 1.8, 1.5, 1.6, 1.76, 1.58, 1.7, 1.54, 1.66, 1.78, 1.6, 1.72, 1.64, 1.56, 1.78, 1.74, 1.66, 1.72, 1.6, 1.68, 1.58, 1.78, 1.62, 1.7, 1.52, 1.78, 1.66, 1.6]
r3_m5_x = [4.02, 4.03, 4.05, 4.12, 4.14, 4.15, 4.17, 4.18, 4.2, 4.21, 4.23, 4.25, 4.26, 4.27, 4.28, 4.29, 4.3, 4.31, 4.32, 4.33, 4.34, 4.34, 4.35, 4.36, 4.37, 4.38, 4.38, 4.4, 4.42, 4.43, 4.44, 4.45, 4.47, 4.48, 4.5, 4.5, 4.52, 4.53, 4.55, 4.56, 4.58, 4.59, 4.6, 4.62, 4.62, 4.64, 4.65, 4.67, 4.68, 4.7, 4.7, 4.73, 4.76, 4.78, 4.79, 4.82, 4.85, 4.88, 4.88, 4.9, 4.94, 4.97]
r3_m5_y = [1.54, 1.45, 1.7, 1.28, 1.37, 1.65, 1.32, 1.42, 1.53, 1.42, 1.55, 1.36, 1.57, 1.19, 1.25, 1.64, 1.38, 1.22, 1.5, 1.88, 1.69, 1.82, 1.45, 1.35, 1.71, 1.22, 1.55, 1.7, 1.78, 1.62, 1.46, 1.65, 1.55, 1.7, 1.36, 1.52, 1.85, 1.62, 1.75, 1.5, 1.85, 1.45, 1.8, 1.58, 1.99, 1.7, 1.94, 1.62, 1.44, 1.52, 2.29, 1.97, 1.81, 1.2, 1.66, 1.7, 2.08, 1.85, 1.94, 1.54, 1.67, 1.4]
r3_m5_core_x = [4.18, 4.2, 4.22, 4.24, 4.26, 4.28, 4.3, 4.32, 4.34, 4.36, 4.36, 4.38, 4.4, 4.42, 4.44, 4.44, 4.46, 4.48, 4.5, 4.52, 4.54, 4.56, 4.58, 4.6, 4.62]
r3_m5_core_y = [1.4, 1.33, 1.44, 1.5, 1.38, 1.56, 1.5, 1.42, 1.56, 1.46, 1.62, 1.36, 1.44, 1.58, 1.62, 1.52, 1.48, 1.58, 1.55, 1.62, 1.75, 1.58, 1.74, 1.55, 1.72]
r3_s_x = [4.18, 4.2, 4.21, 4.22, 4.23, 4.24, 4.26, 4.27, 4.28, 4.29, 4.3, 4.32, 4.34, 4.35, 4.36, 4.38, 4.4, 4.42, 4.44, 4.46, 4.48, 4.5, 4.53, 4.55, 4.57, 4.58, 4.59, 4.6, 4.62, 4.64, 4.65, 4.67, 4.68, 4.7, 4.71, 4.72, 4.74, 4.75, 4.77, 4.78, 4.8, 4.82, 4.83, 4.84, 4.86, 4.87, 4.89, 4.9, 4.93, 4.95, 4.36, 4.38, 4.4, 4.42, 4.66, 4.69, 4.72, 4.74, 4.78, 4.81, 4.85, 4.88]
r3_s_y = [1.57, 1.64, 1.58, 1.52, 1.74, 1.22, 1.3, 1.04, 1.45, 1.26, 1.56, 1.33, 1.58, 1.4, 1.27, 1.42, 1.46, 1.65, 1.31, 1.46, 1.38, 1.4, 1.33, 1.32, 1.6, 1.88, 1.22, 1.75, 1.85, 1.3, 1.96, 1.72, 1.54, 1.85, 1.11, 1.99, 1.7, 1.54, 1.78, 1.99, 1.56, 1.85, 2.04, 1.74, 1.5, 1.95, 1.88, 1.74, 1.86, 1.91, 1.43, 1.4, 1.42, 1.46, 1.78, 1.72, 1.76, 1.84, 1.76, 1.9, 1.8, 1.88]

# row 4 (ENPP2 vs C5)
r4_nc_x = [4.16, 4.31, 4.33, 4.34, 4.35, 4.36, 4.37, 4.37, 4.38, 4.39, 4.4, 4.41, 4.41, 4.42, 4.43, 4.43, 4.44, 4.45, 4.46, 4.47, 4.48, 4.49, 4.5, 4.5, 4.51, 4.52, 4.53, 4.54, 4.54, 4.55, 4.56, 4.58, 4.6, 4.69, 4.76, 4.83, 4.85, 4.38, 4.4, 4.42, 4.44, 4.36, 4.47, 4.5, 4.52, 4.55, 4.39, 4.41]
r4_nc_y = [5.03, 5.17, 5.11, 5.15, 5.09, 5.2, 5.07, 5.15, 5.21, 5.12, 5.11, 5.06, 5.19, 5.1, 5.15, 5.23, 5.09, 5.12, 5.23, 5.08, 5.11, 5.2, 5.06, 5.13, 5.21, 5.17, 5.11, 5.0, 5.18, 5.13, 5.15, 5.08, 5.04, 5.12, 5.08, 5.06, 5.11, 5.11, 5.1, 5.12, 5.11, 5.13, 5.11, 5.1, 5.12, 5.11, 5.15, 5.12]
r4_m4_x = [3.92, 4.05, 4.12, 4.15, 4.17, 4.19, 4.2, 4.22, 4.23, 4.25, 4.26, 4.27, 4.28, 4.29, 4.3, 4.3, 4.31, 4.32, 4.33, 4.33, 4.34, 4.35, 4.35, 4.36, 4.37, 4.37, 4.38, 4.38, 4.39, 4.4, 4.4, 4.41, 4.41, 4.42, 4.43, 4.43, 4.44, 4.44, 4.45, 4.46, 4.46, 4.47, 4.48, 4.49, 4.5, 4.5, 4.52, 4.53, 4.55, 4.56, 4.58, 4.6, 4.62, 4.65, 4.68, 4.7, 4.73, 4.78, 4.82, 4.88, 4.55, 4.6, 4.62, 4.65, 4.68, 4.7, 4.72, 4.74, 4.75, 4.77, 4.78, 4.8, 4.82, 4.83, 4.95]
r4_m4_y = [5.12, 5.08, 5.18, 5.05, 5.14, 5.22, 5.1, 5.0, 5.17, 5.12, 5.25, 5.06, 5.15, 5.0, 5.11, 5.2, 4.92, 5.14, 5.08, 5.24, 5.12, 5.02, 5.18, 5.1, 5.06, 5.2, 4.8, 5.13, 5.08, 5.17, 5.0, 5.11, 5.22, 4.72, 5.07, 5.15, 5.1, 5.19, 5.04, 4.93, 5.13, 5.09, 5.17, 5.03, 5.12, 5.2, 5.07, 5.14, 5.1, 5.35, 5.12, 5.17, 5.07, 5.14, 5.1, 5.14, 4.9, 5.13, 5.1, 5.13, 5.74, 5.68, 5.72, 5.75, 5.66, 5.71, 5.77, 5.68, 5.72, 5.65, 5.73, 5.7, 5.75, 5.63, 5.72]
r4_m4_core_x = [4.24, 4.26, 4.28, 4.3, 4.31, 4.32, 4.33, 4.34, 4.35, 4.35, 4.36, 4.36, 4.37, 4.37, 4.38, 4.38, 4.39, 4.39, 4.4, 4.4, 4.41, 4.41, 4.42, 4.42, 4.43, 4.43, 4.44, 4.44, 4.45, 4.45, 4.46, 4.46, 4.47, 4.47, 4.48, 4.48, 4.49, 4.49, 4.5, 4.5, 4.51, 4.52, 4.53, 4.54, 4.55, 4.56, 4.57, 4.58, 4.6, 4.62, 4.34, 4.38, 4.42, 4.46, 4.5, 4.36, 4.4, 4.44, 4.48, 4.52]
r4_m4_core_y = [5.14, 5.1, 5.16, 5.12, 5.08, 5.17, 5.13, 5.09, 5.15, 5.2, 5.06, 5.12, 5.16, 5.1, 5.04, 5.14, 5.18, 5.09, 5.12, 5.06, 5.15, 5.1, 5.18, 5.13, 5.07, 5.11, 5.15, 5.05, 5.1, 5.14, 5.18, 5.08, 5.12, 5.04, 5.1, 5.15, 5.07, 5.13, 5.09, 5.17, 5.12, 5.06, 5.11, 5.15, 5.08, 5.12, 5.1, 5.14, 5.09, 5.12, 5.13, 5.11, 5.14, 5.1, 5.13, 5.12, 5.14, 5.11, 5.12, 5.1]
r4_m5_x = [3.97, 3.99, 4.0, 4.02, 4.03, 4.13, 4.16, 4.17, 4.2, 4.24, 4.28, 4.3, 4.33, 4.36, 4.4, 4.43, 4.52, 4.12, 4.15, 4.18, 4.2, 4.22, 4.25, 4.28, 4.3, 4.32, 4.34, 4.36, 4.38, 4.4, 4.43, 4.45, 4.47, 4.5, 4.52, 4.54, 4.55, 4.58, 4.6, 4.62, 4.65, 4.67, 4.7, 4.72, 4.79, 4.68, 4.95, 4.4, 4.45, 4.52, 4.55, 4.58, 4.6, 4.62, 4.64, 4.68, 4.72, 4.76, 4.78, 4.82, 4.85, 4.88, 4.9, 4.96, 4.7]
r4_m5_y = [5.16, 5.19, 5.21, 5.17, 5.2, 4.81, 4.82, 4.8, 4.81, 4.88, 4.79, 4.88, 4.85, 5.2, 4.84, 5.08, 4.91, 5.1, 5.14, 5.08, 5.13, 5.06, 5.18, 5.1, 5.03, 5.15, 5.09, 5.22, 5.12, 5.07, 5.14, 5.1, 5.07, 5.15, 5.02, 5.12, 5.0, 5.1, 5.14, 5.08, 5.16, 5.1, 5.05, 5.12, 5.14, 5.34, 5.33, 5.69, 5.74, 5.72, 5.7, 5.67, 5.73, 5.63, 5.77, 5.7, 5.56, 5.7, 5.64, 5.74, 5.68, 5.72, 5.56, 5.63, 5.91]
r4_m5_core_x = [4.18, 4.22, 4.26, 4.28, 4.31, 4.33, 4.35, 4.37, 4.39, 4.41, 4.42, 4.44, 4.46, 4.48, 4.49, 4.51, 4.53, 4.55, 4.57, 4.59, 4.61, 4.63, 4.66, 4.69, 4.42, 4.47, 4.52, 4.56, 4.35, 4.3]
r4_m5_core_y = [5.12, 5.09, 5.13, 5.08, 5.14, 5.1, 5.13, 5.16, 5.09, 5.12, 5.07, 5.13, 5.1, 5.13, 5.08, 5.11, 5.14, 5.08, 5.12, 5.1, 5.13, 5.12, 5.09, 5.1, 5.15, 5.12, 5.09, 5.13, 5.12, 5.15]
r4_s_x = [4.18, 4.2, 4.22, 4.23, 4.25, 4.27, 4.29, 4.3, 4.32, 4.34, 4.35, 4.36, 4.38, 4.4, 4.42, 4.44, 4.46, 4.49, 4.58, 4.65, 4.67, 4.53, 4.55, 4.56, 4.58, 4.6, 4.61, 4.62, 4.64, 4.65, 4.66, 4.68, 4.69, 4.7, 4.72, 4.73, 4.75, 4.76, 4.78, 4.79, 4.8, 4.82, 4.84, 4.86, 4.88, 4.9, 4.92, 4.95, 4.42, 4.4, 4.65, 4.32, 4.34, 4.35, 4.36, 4.37, 4.39, 4.41, 4.6, 4.66, 4.7, 4.74, 4.77, 4.83, 4.87, 4.72]
r4_s_y = [5.14, 5.08, 5.12, 5.15, 5.09, 5.12, 5.05, 5.12, 5.08, 5.14, 5.03, 5.09, 5.12, 5.16, 5.1, 5.14, 5.08, 4.89, 5.16, 5.13, 5.14, 5.78, 5.72, 5.65, 5.76, 5.7, 5.55, 5.76, 5.72, 5.6, 5.68, 5.74, 5.9, 5.66, 5.76, 5.62, 5.5, 5.72, 5.68, 5.78, 5.46, 5.82, 5.74, 5.7, 5.78, 5.72, 5.62, 5.68, 5.8, 5.72, 5.71, 5.11, 5.06, 5.08, 5.02, 5.1, 5.06, 5.14, 5.74, 5.72, 5.7, 5.73, 5.74, 5.72, 5.75, 5.68]

# row 5 (VWF vs C5)
r5_nc_x = [3.17, 3.2, 3.25, 3.27, 3.3, 3.33, 3.36, 3.38, 3.4, 3.42, 3.44, 3.46, 3.48, 3.5, 3.52, 3.54, 3.56, 3.57, 3.58, 3.6, 3.61, 3.62, 3.64, 3.65, 3.66, 3.68, 3.69, 3.7, 3.72, 3.73, 3.74, 3.75, 3.76, 3.78, 3.79, 3.8, 3.82, 3.84, 3.98, 4.02, 4.05, 3.5, 3.55, 3.6, 3.63, 3.67, 3.71, 3.74, 3.77, 3.79, 3.81, 3.77, 3.75]
r5_nc_y = [5.11, 5.08, 5.04, 5.17, 5.0, 5.12, 5.08, 5.15, 5.04, 5.18, 5.2, 5.1, 5.07, 5.14, 5.1, 5.16, 5.07, 5.22, 5.11, 5.14, 5.07, 5.18, 5.09, 5.2, 5.12, 5.07, 5.17, 5.13, 5.21, 5.1, 5.15, 5.08, 5.19, 5.24, 5.12, 5.16, 5.06, 5.22, 5.07, 5.05, 5.11, 5.08, 5.1, 5.08, 5.12, 5.13, 5.16, 5.18, 5.14, 5.2, 5.14, 5.22, 5.13]
r5_m4_x = [3.02, 3.06, 3.1, 3.18, 3.19, 3.28, 3.3, 3.33, 3.36, 3.4, 3.42, 3.45, 3.48, 3.5, 3.52, 3.53, 3.55, 3.56, 3.58, 3.6, 3.62, 3.63, 3.64, 3.65, 3.66, 3.67, 3.68, 3.69, 3.7, 3.7, 3.71, 3.72, 3.73, 3.74, 3.75, 3.76, 3.77, 3.78, 3.79, 3.8, 3.8, 3.81, 3.82, 3.83, 3.84, 3.85, 3.86, 3.87, 3.88, 3.9, 3.92, 3.94, 3.96, 3.98, 4.0, 4.03, 4.08, 4.14, 4.33, 4.47, 3.62, 3.66, 3.7, 3.75, 3.68, 3.72, 3.74, 3.78, 3.75, 3.85, 3.73, 4.05, 4.1, 4.15, 4.2, 4.22, 4.28, 4.35, 4.4, 4.48, 4.5, 4.52, 4.55, 4.58, 4.62, 4.68]
r5_m4_y = [5.22, 5.12, 5.08, 5.2, 5.17, 5.18, 5.1, 5.05, 5.15, 5.08, 5.18, 5.04, 5.12, 5.16, 5.06, 5.12, 5.0, 5.14, 5.08, 5.17, 5.1, 5.02, 5.14, 5.08, 5.18, 5.12, 5.05, 5.1, 5.16, 5.2, 5.07, 5.12, 5.03, 5.15, 5.09, 5.22, 5.12, 5.06, 5.18, 5.1, 5.14, 5.02, 5.08, 5.16, 5.11, 5.06, 5.13, 5.09, 5.18, 5.12, 5.05, 5.14, 5.08, 5.1, 5.13, 5.07, 5.12, 5.1, 5.12, 5.12, 4.91, 4.86, 4.95, 4.8, 5.36, 4.71, 4.88, 4.9, 5.28, 4.88, 4.98, 5.64, 5.68, 5.66, 5.7, 5.66, 5.72, 5.66, 5.72, 5.66, 5.72, 5.76, 5.7, 5.78, 5.72, 5.7]
r5_m4_core_x = [3.55, 3.58, 3.6, 3.62, 3.64, 3.65, 3.66, 3.67, 3.68, 3.69, 3.7, 3.7, 3.71, 3.72, 3.73, 3.73, 3.74, 3.74, 3.75, 3.75, 3.76, 3.76, 3.77, 3.77, 3.78, 3.78, 3.79, 3.79, 3.8, 3.8, 3.81, 3.81, 3.82, 3.82, 3.83, 3.83, 3.84, 3.84, 3.85, 3.85, 3.86, 3.86, 3.87, 3.88, 3.89, 3.9, 3.91, 3.92, 3.94, 3.96, 3.68, 3.72, 3.76, 3.8, 3.84, 3.88, 3.7, 3.74, 3.78, 3.82]
r5_m4_core_y = [5.08, 5.11, 5.06, 5.12, 5.08, 5.13, 5.09, 5.05, 5.14, 5.1, 5.07, 5.13, 5.11, 5.09, 5.15, 5.06, 5.12, 5.08, 5.14, 5.04, 5.11, 5.07, 5.15, 5.09, 5.12, 5.05, 5.1, 5.14, 5.07, 5.12, 5.09, 5.15, 5.06, 5.11, 5.13, 5.08, 5.1, 5.15, 5.06, 5.12, 5.09, 5.14, 5.08, 5.11, 5.06, 5.14, 5.09, 5.12, 5.1, 5.07, 5.1, 5.12, 5.09, 5.11, 5.13, 5.09, 5.14, 5.1, 5.12, 5.1]
r5_m5_x = [3.02, 3.4, 3.44, 3.5, 3.53, 3.56, 3.58, 3.6, 3.62, 3.63, 3.65, 3.66, 3.68, 3.7, 3.72, 3.74, 3.75, 3.77, 3.78, 3.8, 3.82, 3.84, 3.85, 3.86, 3.88, 3.9, 3.92, 3.94, 3.96, 3.98, 4.0, 4.02, 4.05, 4.1, 4.16, 3.85, 3.87, 3.88, 3.9, 3.92, 3.95, 4.1, 3.89, 4.14, 4.2, 4.22, 4.32, 4.34, 4.4, 4.44, 4.46, 4.5, 4.52, 4.56, 4.58, 4.66, 4.68, 4.7, 4.86, 4.88, 4.9]
r5_m5_y = [5.1, 5.14, 5.13, 5.12, 5.08, 5.14, 5.12, 5.18, 5.05, 5.1, 5.14, 5.0, 5.2, 5.12, 5.08, 5.22, 5.14, 5.06, 5.12, 5.18, 5.09, 5.14, 5.2, 5.04, 5.12, 5.18, 5.08, 5.14, 5.02, 5.16, 5.12, 5.18, 5.1, 5.14, 5.11, 4.91, 4.84, 4.88, 4.82, 4.8, 4.85, 4.79, 5.74, 5.67, 5.7, 5.33, 5.69, 5.64, 5.7, 5.71, 5.56, 5.68, 5.9, 5.7, 5.66, 5.62, 5.74, 5.76, 5.34, 5.72, 5.7]
r5_m5_core_x = [3.7, 3.72, 3.74, 3.76, 3.78, 3.79, 3.8, 3.81, 3.82, 3.83, 3.84, 3.85, 3.86, 3.87, 3.88, 3.89, 3.9, 3.91, 3.92, 3.93, 3.94, 3.95, 3.96, 3.97, 3.99, 4.01, 3.86, 3.9, 3.94, 3.8]
r5_m5_core_y = [5.14, 5.1, 5.13, 5.09, 5.15, 5.1, 5.06, 5.12, 5.15, 5.08, 5.12, 5.07, 5.15, 5.1, 5.06, 5.13, 5.11, 5.16, 5.05, 5.12, 5.09, 5.15, 5.1, 5.08, 5.13, 5.08, 5.1, 5.13, 5.11, 5.14]
r5_s_x = [3.48, 3.55, 3.6, 3.65, 3.68, 3.72, 3.75, 3.78, 3.82, 3.85, 3.88, 3.9, 3.93, 3.95, 3.98, 4.0, 4.03, 4.05, 4.08, 4.1, 4.2, 4.3, 4.1, 4.28, 4.3, 4.33, 4.35, 4.38, 4.4, 4.42, 4.45, 4.47, 4.5, 4.52, 4.55, 4.58, 4.6, 4.62, 4.65, 4.68, 4.7, 4.72, 4.75, 4.78, 4.8, 4.85, 4.9, 4.95, 5.0, 5.08, 5.1, 5.2, 3.85, 3.9, 3.95, 4.0, 4.05, 3.92, 3.98, 4.5, 4.56, 4.6, 4.64, 4.68, 4.72, 4.76, 4.8, 4.7]
r5_s_y = [5.04, 5.03, 5.08, 5.02, 5.12, 5.08, 5.13, 5.05, 5.1, 5.01, 5.14, 5.06, 5.12, 5.03, 5.16, 5.1, 5.14, 5.08, 5.12, 5.07, 4.89, 5.15, 5.69, 5.46, 5.72, 5.62, 5.7, 5.76, 5.66, 5.74, 5.62, 5.78, 5.7, 5.9, 5.55, 5.74, 5.68, 5.48, 5.76, 5.58, 5.72, 5.66, 5.78, 5.6, 5.74, 5.7, 5.74, 5.76, 5.55, 5.83, 5.64, 5.51, 5.09, 5.12, 5.09, 5.14, 5.12, 5.05, 5.08, 5.72, 5.7, 5.75, 5.7, 5.77, 5.68, 5.72, 5.76, 5.74]

# regression end points, x then y, columns NC, M4, M5, S
line_x = [[(1.95, 2.53), (1.90, 2.92), (1.91, 2.91), (1.91, 2.92)],
          [(1.95, 2.53), (1.90, 2.92), (1.91, 2.91), (1.91, 2.92)],
          [(4.16, 4.85), (4.00, 4.99), (4.00, 4.97), (4.18, 4.95)],
          [(4.16, 4.85), (3.92, 5.00), (3.92, 4.97), (4.18, 4.95)],
          [(3.00, 4.06), (3.00, 4.70), (3.00, 4.90), (3.48, 5.15)]]
line_y = [[(1.34, 1.55), (1.24, 1.96), (1.27, 2.08), (1.18, 2.17)],
          [(1.53, 1.66), (1.54, 1.85), (1.37, 1.89), (1.11, 1.89)],
          [(1.54, 1.66), (1.51, 1.84), (1.38, 1.80), (1.34, 1.80)],
          [(5.142, 5.103), (4.83, 5.50), (4.88, 5.54), (4.98, 5.90)],
          [(5.09, 5.15), (4.94, 5.45), (4.66, 5.74), (4.88, 6.00)]]
r_labels = [["0.3367", "0.5355", "0.6004", "0.8844"],
            ["0.2169", "0.2563", "0.4027", "0.8012"],
            ["0.2279", "0.2941", "0.5858", "0.7474"],
            ["-0.0917", "0.1430", "0.3035", "0.7471"],
            ["0.2582", "0.3079", "0.4121", "0.7590"]]
ns_labels = ["0.2169", "-0.0917"]
group_names = ["NC", "M4", "M5", "S"]
x_names = ["CXCL6", "CXCL6", "ENPP2", "ENPP2", "VWF"]
y_names = ["IL15", "FASLG", "FASLG", "C5", "C5"]
scatter_x = [[r1_nc_x, r1_m4_x + r1_m4_core_x, r1_m5_x + r1_m5_core_x, r1_s_x + r1_s_core_x],
             [r2_nc_x, r2_m4_x + r2_m4_core_x, r2_m5_x + r2_m5_core_x, r2_s_x],
             [r3_nc_x, r3_m4_x + r3_m4_core_x, r3_m5_x + r3_m5_core_x, r3_s_x],
             [r4_nc_x, r4_m4_x + r4_m4_core_x, r4_m5_x + r4_m5_core_x, r4_s_x],
             [r5_nc_x, r5_m4_x + r5_m4_core_x, r5_m5_x + r5_m5_core_x, r5_s_x]]
scatter_y = [[r1_nc_y, r1_m4_y + r1_m4_core_y, r1_m5_y + r1_m5_core_y, r1_s_y + r1_s_core_y],
             [r2_nc_y, r2_m4_y + r2_m4_core_y, r2_m5_y + r2_m5_core_y, r2_s_y],
             [r3_nc_y, r3_m4_y + r3_m4_core_y, r3_m5_y + r3_m5_core_y, r3_s_y],
             [r4_nc_y, r4_m4_y + r4_m4_core_y, r4_m5_y + r4_m5_core_y, r4_s_y],
             [r5_nc_y, r5_m4_y + r5_m4_core_y, r5_m5_y + r5_m5_core_y, r5_s_y]]

# x and y ticks per panel
t_cx = [1.5, 2.0, 2.5, 3.0]
t_en = [4.0, 4.2, 4.4, 4.6, 4.8, 5.0]
t_en2 = [3.5, 4.0, 4.5, 5.0, 5.5]
t_vw = [3.0, 3.5, 4.0, 4.5, 5.0]
t_vw2 = [3.0, 3.5, 4.0, 4.5, 5.0, 5.5]
t_y1 = [1.0, 1.5, 2.0, 2.5]
t_y2 = [4.5, 5.0, 5.5, 6.0]
t_y3 = [4.9, 5.0, 5.1, 5.2, 5.3]
x_ticks = [[t_cx] * 4, [t_cx] * 4, [t_en] * 4, [t_en, t_en2, t_en2, t_en], [t_vw, t_vw, t_vw, t_vw2]]
y_ticks = [[t_y1] * 4, [t_y1] * 4, [t_y1] * 4, [t_y3, t_y2, t_y2, t_y2], [t_y2] * 4]

fig = plt.figure(figsize=(W / 100, H / 100), dpi=100, facecolor='white')


def pixel_axes(l, t, r, b):
    return fig.add_axes([l / W, 1 - b / H, (r - l) / W, (b - t) / H])


def radius(n):
    # px radius from the size legend
    return 4.3 + 0.245 * n


def area(r):
    return (2 * r * 0.72) ** 2


def network(box, lims, names, xs, ys, ns, cells, edges, neg_edges, fs, tag, tag_box, letter, letter_pos):
    ax = pixel_axes(*box)
    ax.set_xlim(lims[0], lims[1])
    ax.set_ylim(lims[3], lims[2])
    ax.set_xticks([])
    ax.set_yticks([])
    for s in ax.spines.values():
        s.set_linewidth(1.2)
        s.set_color('#222222')
    pos = {n: (x, y) for n, x, y in zip(names, xs, ys)}
    for rows, col in ((edges, '#fccaca'), (neg_edges, '#c8c8fb')):
        for row in rows:
            parts = row.split()
            for other in parts[1:]:
                ax.plot([pos[parts[0]][0], pos[other][0]], [pos[parts[0]][1], pos[other][1]], color=col, lw=1.15,
                        solid_capstyle='round', zorder=1)
    sizes = [area(radius(n)) for n in ns]
    ax.scatter(xs, ys, s=sizes, c=[cell_colors[c] for c in cells], edgecolors='#3a3a3a', linewidths=0.45, zorder=2)
    for name, x, y, c in zip(names, xs, ys, cells):
        ax.text(x, y, name, fontsize=fs, ha='center', va='center', zorder=3,
                color='#a9b4c8' if c == 0 else '#151515', alpha=0.95)
    over.add_patch(Rectangle((tag_box[0], tag_box[1]), tag_box[2] - tag_box[0], tag_box[3] - tag_box[1], color='#e2e2e2', lw=0))
    over.text((tag_box[0] + tag_box[2]) / 2, (tag_box[1] + tag_box[3]) / 2, tag, fontsize=13.5, fontweight='bold', ha='center', va='center')
    over.text(letter_pos[0], letter_pos[1], letter, fontsize=20, fontweight='bold', ha='center', va='center')


# overlay in figure pixels, for labels and legends
over = fig.add_axes([0, 0, 1, 1], zorder=5)
over.set_xlim(0, W)
over.set_ylim(H, 0)
over.axis('off')

network((6, 5, 666, 820), (15, 1537, 10, 1550), a_names, a_x, a_y, a_n, a_cell, a_edges, [], 6.8, "M4", (614, 8, 664, 41), "A", (36, 31))
network((700, 5, 1487, 820), (20, 1542, 10, 1550), b_names, b_x, b_y, b_n, b_cell, b_edges, [], 7.8, "M5", (1435, 8, 1486, 41), "B", (727, 31))
network((5, 853, 748, 1720), (12, 1542, 6, 1552), c_names, c_x, c_y, c_n, c_cell, c_edges, c_neg_edges, 6.2, "S", (711, 856, 747, 889), "C", (37, 887))

# cell type legend
over.add_patch(Rectangle((1503, 5), 145, 226, fill=False, ec='#222222', lw=1.2))
for i, (name, col) in enumerate(zip(cell_names, cell_colors)):
    yy = 21.2 + i * 15.1
    over.scatter([1517.7], [yy], s=area(4), c=col, linewidths=0)
    over.text(1530, yy, name, fontsize=9, fontweight='bold', va='center', ha='left', color='#111111')

# size legend
over.add_patch(Rectangle((1503, 254), 145, 301, fill=False, ec='#222222', lw=1.2))
leg_y = [323, 386, 437, 475, 503.6]
leg_lab = [325, 391, 438.6, 478, 503.6]
for n, yy, ly in zip(size_legend, leg_y, leg_lab):
    over.scatter([1596.7], [yy], s=area(radius(n)), facecolors='none', edgecolors='#333333', linewidths=0.9)
    over.text(1556, ly, str(n), rotation=90, fontsize=8.5, ha='center', va='center', color='#222222')
over.plot([1541.7, 1541.7], [312.5, 506], color='#222222', lw=1.2)
over.text(1523, 397, "no. of correlators (r \u2265 |0.4| , p < 0.05)", rotation=90, fontsize=12, ha='center', va='center', color='#111111')

# panel D
col_x = [(835.7, 978.3), (1053.7, 1196.3), (1272, 1415), (1490, 1633)]
row_y = [(885.7, 1028.3), (1099.7, 1242), (1313.7, 1455.7), (1527.3, 1669.7), (1740.7, 1883.3)]
header_x = [(881.7, 935), (1100, 1152), (1318.3, 1371.3), (1544.3, 1581.3)]
dash_y = [1079.3, 1296, 1505.3, 1721.7]
pt_color = ['#9a9a9e', '#28eefc', '#14b80c', '#fdbe84']
ln_color = ['#000000', '#0a10c4', '#0b7a12', '#a80f12']

for (l, r), g in zip(header_x, group_names):
    over.add_patch(Rectangle((l, 847.3), r - l, 36, color='#e2e2e2', lw=0))
    over.text((l + r) / 2, 865.5, g, fontsize=14, fontweight='bold', ha='center', va='center')
over.text(780, 858, "D", fontsize=20, fontweight='bold', ha='center', va='center')
for yy in dash_y:
    over.plot([789, 1639], [yy, yy], color='#222222', lw=1.2, dashes=(5, 3.2))

for ri in range(5):
    for ci in range(4):
        l, r = col_x[ci]
        t, b = row_y[ri]
        if ci == 1 and ri in (1, 2):
            r = r - 3
            b = b - 2.4
        ax = pixel_axes(l, t, r, b)
        xt = x_ticks[ri][ci]
        yt = y_ticks[ri][ci]
        ax.set_xlim(xt[0], xt[-1])
        ax.set_ylim(yt[0], yt[-1])
        ax.set_xticks(xt)
        ax.set_yticks(yt)
        ax.set_xticklabels(['%.1f' % v for v in xt])
        ax.set_yticklabels(['%.1f' % v for v in yt])
        ax.patch.set_alpha(0)
        for s in ('top', 'right'):
            ax.spines[s].set_visible(False)
        for s in ('left', 'bottom'):
            ax.spines[s].set_linewidth(1.1)
            ax.spines[s].set_color('#222222')
        ax.tick_params(length=4.2, width=1.1, color='#222222', labelsize=7.8, pad=3.2)
        ax.tick_params(axis='y', pad=0.5)
        for lab in ax.get_xticklabels() + ax.get_yticklabels():
            lab.set_fontweight('bold')
            lab.set_color('#1a1a1a')
        if ci == 2:
            ax.scatter(scatter_x[ri][ci], scatter_y[ri][ci], s=area(2.6), facecolors='none', edgecolors=pt_color[ci],
                       linewidths=1.05, clip_on=False, zorder=2)
        elif ci == 1:
            ax.scatter(scatter_x[ri][ci], scatter_y[ri][ci], s=area(2.5), c=pt_color[ci], alpha=0.5, linewidths=0,
                       clip_on=False, zorder=2)
        else:
            ax.scatter(scatter_x[ri][ci], scatter_y[ri][ci], s=area(2.3), c=pt_color[ci], linewidths=0, clip_on=False, zorder=2)
        ax.plot(line_x[ri][ci], line_y[ri][ci], color=ln_color[ci], lw=1.7, clip_on=False, zorder=3, solid_capstyle='butt')
        lab = r_labels[ri][ci]
        ax.text(0.085, 0.875, lab, transform=ax.transAxes, fontsize=12, va='center', ha='left',
                color='#cfcfcf' if lab in ns_labels else '#1a1a1a', zorder=4)
        ax.set_xlabel(x_names[ri] + r' (Log$_{\mathbf{10}}$[pg/ml])', fontsize=8.4, fontweight='bold', color='#1a1a1a', va='center')
        ax.set_ylabel(y_names[ri] + r' (Log$_{\mathbf{10}}$[pg/ml])', fontsize=8.4, fontweight='bold', color='#1a1a1a', va='center')
        ax.xaxis.set_label_coords(0.5, -0.225)
        ax.yaxis.set_label_coords(-0.243, 0.5)

fig.savefig("out.png", dpi=100, facecolor='white')
